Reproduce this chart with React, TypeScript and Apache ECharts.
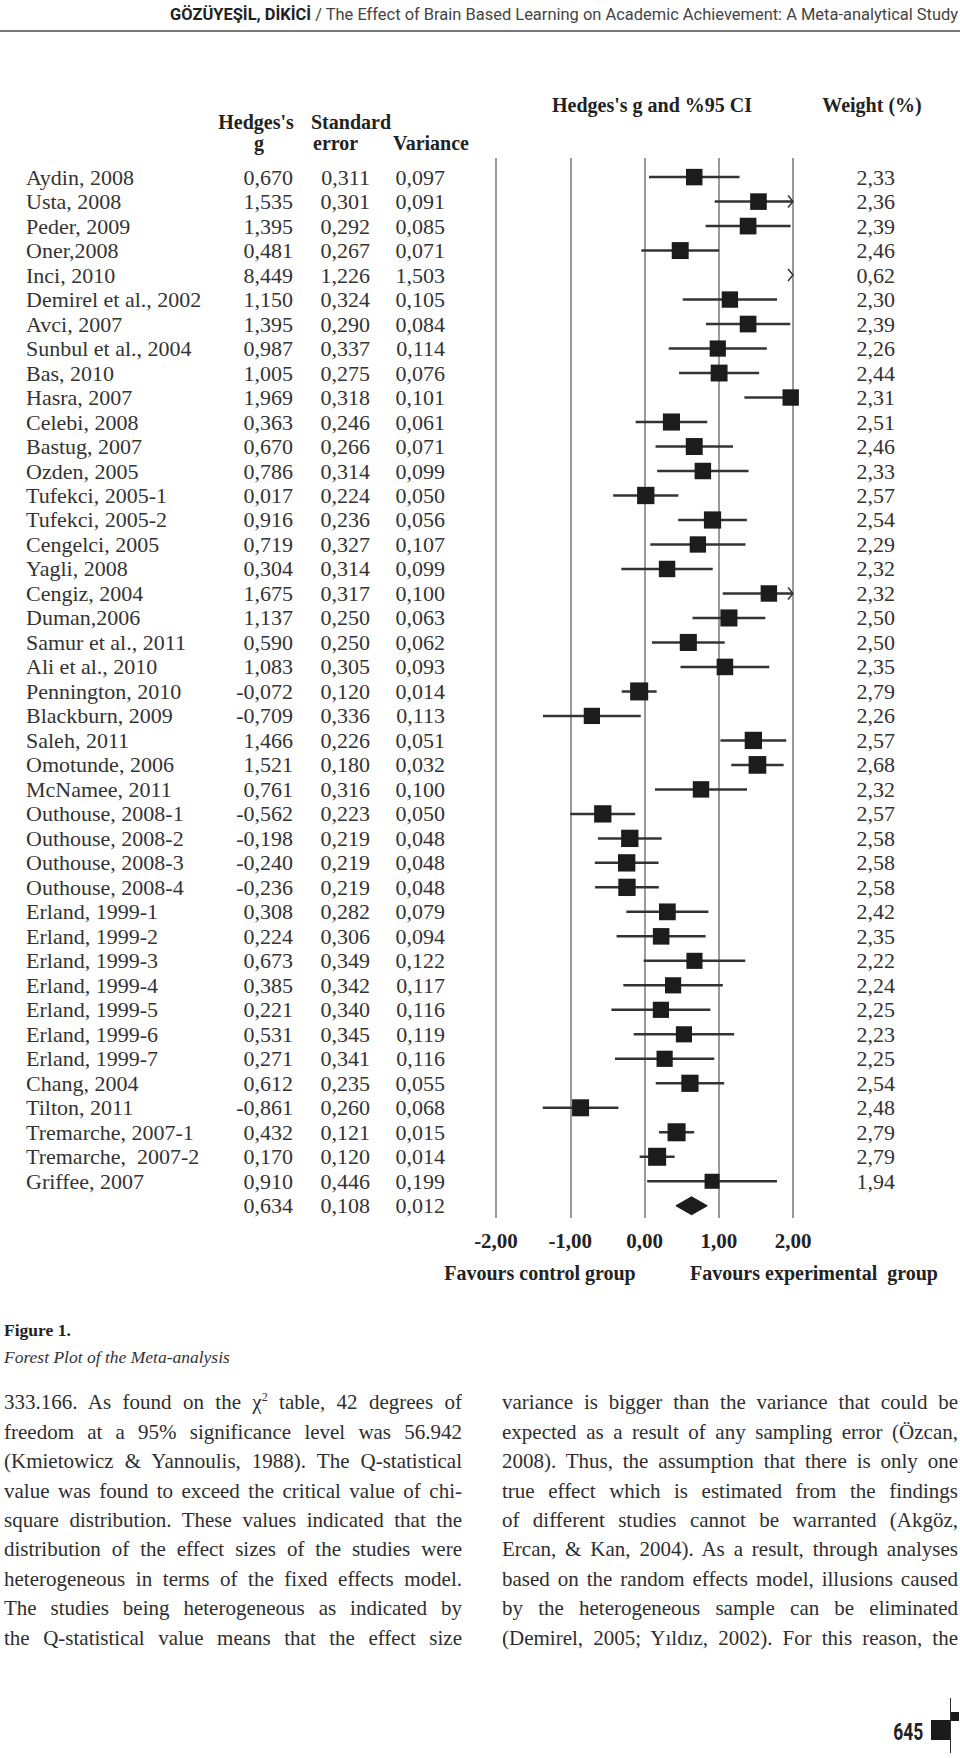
import React, { useEffect, useRef } from "react";
import * as echarts from "echarts";

// ---------------- DATA ----------------
const studyNames = [
  "Aydin, 2008", "Usta, 2008", "Peder, 2009", "Oner,2008", "Inci, 2010",
  "Demirel et al., 2002", "Avci, 2007", "Sunbul et al., 2004", "Bas, 2010", "Hasra, 2007",
  "Celebi, 2008", "Bastug, 2007", "Ozden, 2005", "Tufekci, 2005-1", "Tufekci, 2005-2",
  "Cengelci, 2005", "Yagli, 2008", "Cengiz, 2004", "Duman,2006", "Samur et al., 2011",
  "Ali et al., 2010", "Pennington, 2010", "Blackburn, 2009", "Saleh, 2011", "Omotunde, 2006",
  "McNamee, 2011", "Outhouse, 2008-1", "Outhouse, 2008-2", "Outhouse, 2008-3", "Outhouse, 2008-4",
  "Erland, 1999-1", "Erland, 1999-2", "Erland, 1999-3", "Erland, 1999-4", "Erland, 1999-5",
  "Erland, 1999-6", "Erland, 1999-7", "Chang, 2004", "Tilton, 2011", "Tremarche, 2007-1",
  "Tremarche,  2007-2", "Griffee, 2007",
];
const hedgesG = [
  0.670, 1.535, 1.395, 0.481, 8.449, 1.150, 1.395, 0.987, 1.005, 1.969,
  0.363, 0.670, 0.786, 0.017, 0.916, 0.719, 0.304, 1.675, 1.137, 0.590,
  1.083, -0.072, -0.709, 1.466, 1.521, 0.761, -0.562, -0.198, -0.240, -0.236,
  0.308, 0.224, 0.673, 0.385, 0.221, 0.531, 0.271, 0.612, -0.861, 0.432,
  0.170, 0.910,
];
const standardErrors = [
  0.311, 0.301, 0.292, 0.267, 1.226, 0.324, 0.290, 0.337, 0.275, 0.318,
  0.246, 0.266, 0.314, 0.224, 0.236, 0.327, 0.314, 0.317, 0.250, 0.250,
  0.305, 0.120, 0.336, 0.226, 0.180, 0.316, 0.223, 0.219, 0.219, 0.219,
  0.282, 0.306, 0.349, 0.342, 0.340, 0.345, 0.341, 0.235, 0.260, 0.121,
  0.120, 0.446,
];
const variances = [
  0.097, 0.091, 0.085, 0.071, 1.503, 0.105, 0.084, 0.114, 0.076, 0.101,
  0.061, 0.071, 0.099, 0.050, 0.056, 0.107, 0.099, 0.100, 0.063, 0.062,
  0.093, 0.014, 0.113, 0.051, 0.032, 0.100, 0.050, 0.048, 0.048, 0.048,
  0.079, 0.094, 0.122, 0.117, 0.116, 0.119, 0.116, 0.055, 0.068, 0.015,
  0.014, 0.199,
];
const weightsPct = [
  2.33, 2.36, 2.39, 2.46, 0.62, 2.30, 2.39, 2.26, 2.44, 2.31,
  2.51, 2.46, 2.33, 2.57, 2.54, 2.29, 2.32, 2.32, 2.50, 2.50,
  2.35, 2.79, 2.26, 2.57, 2.68, 2.32, 2.57, 2.58, 2.58, 2.58,
  2.42, 2.35, 2.22, 2.24, 2.25, 2.23, 2.25, 2.54, 2.48, 2.79,
  2.79, 1.94,
];
// summary: Hedges's g, standard error, variance
const summaryValues = [0.634, 0.108, 0.012];
const xTicks = [-2, -1, 0, 1, 2];

const leftLines = [
  "333.166. As found on the χ² table, 42 degrees of",
  "freedom at a 95% significance level was 56.942",
  "(Kmietowicz & Yannoulis, 1988). The Q-statistical",
  "value was found to exceed the critical value of chi-",
  "square distribution. These values indicated that the",
  "distribution of the effect sizes of the studies were",
  "heterogeneous in terms of the fixed effects model.",
  "The studies being heterogeneous as indicated by",
  "the Q-statistical value means that the effect size",
];
const rightLines = [
  "variance is bigger than the variance that could be",
  "expected as a result of any sampling error (Özcan,",
  "2008). Thus, the assumption that there is only one",
  "true effect which is estimated from the findings",
  "of different studies cannot be warranted (Akgöz,",
  "Ercan, & Kan, 2004). As a result, through analyses",
  "based on the random effects model, illusions caused",
  "by the heterogeneous sample can be eliminated",
  "(Demirel, 2005; Yıldız, 2002). For this reason, the",
];

// ---------------- HELPERS ----------------
const SERIF = "'Liberation Serif', 'Times New Roman', serif";
const fmt3 = (v: number) => v.toFixed(3).replace(".", ",");
const fmt2 = (v: number) => v.toFixed(2).replace(".", ",");

function txt(text: string, x: number, y: number, align: string, opts: any = {}) {
  return {
    type: "text",
    style: {
      text,
      x,
      y,
      align,
      textAlign: align,
      verticalAlign: "middle",
      textVerticalAlign: "middle",
      fontFamily: SERIF,
      fontSize: opts.fontSize || 22,
      fontWeight: opts.fontWeight || "normal",
      fill: opts.fill || "#333",
    },
  };
}

function buildOption() {
  const xMin = xTicks[0];
  const xMax = xTicks[xTicks.length - 1];
  const rows: number[][] = studyNames.map((_, i) => [i, hedgesG[i], standardErrors[i], weightsPct[i], 0]);
  rows.push([studyNames.length, summaryValues[0], summaryValues[1], 0, 1]);

  const renderItem = (params: any, api: any) => {
    const i = api.value(0);
    const g = api.value(1);
    const se = api.value(2);
    const w = api.value(3);
    const isSummary = api.value(4) === 1;
    const px = (v: number) => api.coord([v, i])[0];
    const cy = api.coord([0, i])[1];
    const lo = g - 1.96 * se;
    const hi = g + 1.96 * se;
    const children: any[] = [];
    const ink = "#1c1c1c";
    if (isSummary) {
      children.push({
        type: "polygon",
        shape: { points: [[px(lo), cy], [px(g), cy - 9], [px(hi), cy], [px(g), cy + 9]] },
        style: { fill: ink, stroke: ink, lineWidth: 1 },
      });
      children.push(txt(fmt3(summaryValues[0]), 293, cy, "right"));
      children.push(txt(fmt3(summaryValues[1]), 370, cy, "right"));
      children.push(txt(fmt3(summaryValues[2]), 445, cy, "right"));
    } else {
      const l = Math.max(lo, xMin);
      const h = Math.min(hi, xMax);
      if (h > l) {
        children.push({
          type: "line",
          shape: { x1: px(l), y1: cy, x2: px(h), y2: cy },
          style: { stroke: "#333", lineWidth: 2.5 },
        });
      }
      if (hi > xMax) {
        const ax = px(xMax);
        children.push({
          type: "polyline",
          shape: { points: [[ax - 5, cy - 6], [ax, cy], [ax - 5, cy + 6]] },
          style: { stroke: "#333", lineWidth: 1.5, fill: "none" },
        });
      }
      if (lo < xMin) {
        const ax = px(xMin);
        children.push({
          type: "polyline",
          shape: { points: [[ax + 5, cy - 6], [ax, cy], [ax + 5, cy + 6]] },
          style: { stroke: "#333", lineWidth: 1.5, fill: "none" },
        });
      }
      if (g >= xMin && g <= xMax) {
        const s = 10.8 * Math.sqrt(w);
        children.push({
          type: "rect",
          shape: { x: px(g) - s / 2, y: cy - s / 2, width: s, height: s },
          style: { fill: ink },
        });
      }
      children.push(txt(studyNames[i], 26, cy, "left"));
      children.push(txt(fmt3(hedgesG[i]), 293, cy, "right"));
      children.push(txt(fmt3(standardErrors[i]), 370, cy, "right"));
      children.push(txt(fmt3(variances[i]), 445, cy, "right"));
      children.push(txt(fmt2(weightsPct[i]), 895, cy, "right"));
    }
    return { type: "group", children };
  };

  const head = (text: string, x: number, y: number, align: string, size = 20) => ({
    type: "text",
    x,
    y,
    style: {
      text,
      align,
      textAlign: align,
      verticalAlign: "middle",
      textVerticalAlign: "middle",
      fontFamily: SERIF,
      fontSize: size,
      fontWeight: "bold",
      fill: "#222",
    },
  });

  return {
    animation: false,
    backgroundColor: "transparent",
    grid: { left: 496, right: 167, top: 158, bottom: 82 },
    xAxis: {
      type: "value",
      min: xMin,
      max: xMax,
      interval: xTicks[1] - xTicks[0],
      axisLine: { show: false },
      axisTick: { show: false },
      splitLine: { show: true, lineStyle: { color: "#9a9a9a", width: 2, type: "solid" } },
      axisLabel: {
        margin: 12,
        fontFamily: SERIF,
        fontWeight: "bold",
        fontSize: 21,
        color: "#222",
        formatter: (v: number) => v.toFixed(2).replace(".", ","),
      },
    },
    yAxis: {
      type: "value",
      inverse: true,
      min: -0.78,
      max: 42.5,
      show: false,
      splitLine: { show: false },
    },
    series: [
      {
        type: "custom",
        clip: false,
        renderItem,
        data: rows,
      },
    ],
    graphic: [
      head("Hedges's", 256, 122, "center"),
      head("g", 259, 143, "center"),
      head("Standard", 351, 122, "center"),
      head("error", 313, 143, "left"),
      head("Variance", 431, 143, "center"),
      head("Hedges's g and %95 CI", 652, 105, "center"),
      head("Weight (%)", 872, 105, "center"),
      head("Favours control group", 540, 1273, "center"),
      head("Favours experimental  group", 814, 1273, "center"),
    ],
  };
}

function renderLine(s: string) {
  if (s.indexOf("²") < 0) return s;
  const parts = s.split("²");
  return (
    <>
      {parts[0]}
      <sup style={{ fontSize: 12, verticalAlign: "8px", lineHeight: 0 }}>2</sup>
      {parts[1]}
    </>
  );
}

export default function App() {
  const chartRef = useRef<HTMLDivElement>(null);
  const headRef = useRef<HTMLDivElement>(null);
  const numRef = useRef<HTMLDivElement>(null);

  useEffect(() => {
    const chart = echarts.init(chartRef.current as HTMLDivElement, null, { renderer: "svg" });
    chart.setOption(buildOption() as any);
    const fit = () => {
      const pairs: [HTMLDivElement | null, number][] = [
        [headRef.current, 788],
        [numRef.current, 30],
      ];
      pairs.forEach(([el, target]) => {
        if (!el) return;
        el.style.transform = "none";
        const w = el.getBoundingClientRect().width;
        if (w > 0) el.style.transform = `scaleX(${target / w})`;
      });
    };
    fit();
    const fonts: any = (document as any).fonts;
    if (fonts && fonts.ready) fonts.ready.then(fit);
    return () => chart.dispose();
  }, []);

  const lineTop0 = 1403;
  const lineStep = 29.4;
  const lineStyle = (left: number, width: number, i: number): React.CSSProperties => ({
    position: "absolute",
    left,
    top: lineTop0 + i * lineStep - lineStep / 2,
    width,
    height: lineStep,
    lineHeight: `${lineStep}px`,
    fontSize: 21,
    fontFamily: SERIF,
    color: "#2e2e2e",
    textAlign: "justify",
    textAlignLast: "justify" as any,
    overflow: "hidden",
  });

  return (
    <div
      style={{
        position: "absolute",
        left: 0,
        top: 0,
        width: 960,
        height: 1758,
        background: "#fff",
        overflow: "hidden",
      }}
    >
      <div ref={chartRef} style={{ position: "absolute", left: 0, top: 0, width: 960, height: 1300 }} />

      {/* running head */}
      <div
        ref={headRef}
        style={{
          position: "absolute",
          right: 2,
          top: 4,
          fontFamily: "Roboto, 'Liberation Sans', sans-serif",
          fontSize: 17,
          lineHeight: "21px",
          whiteSpace: "nowrap",
          color: "#444",
          transformOrigin: "right center",
        }}
      >
        <span style={{ fontWeight: "bold", color: "#222" }}>GÖZÜYEŞİL, DİKİCİ</span> / The Effect of Brain Based
        Learning on Academic Achievement: A Meta-analytical Study
      </div>
      <div style={{ position: "absolute", left: 0, top: 30, width: 960, height: 1.5, background: "#777" }} />

      {/* caption */}
      <div
        style={{
          position: "absolute",
          left: 4,
          top: 1320,
          fontFamily: SERIF,
          fontSize: 17.5,
          lineHeight: "20px",
          fontWeight: "bold",
          color: "#222",
        }}
      >
        Figure 1.
      </div>
      <div
        style={{
          position: "absolute",
          left: 4,
          top: 1347,
          fontFamily: SERIF,
          fontSize: 17.5,
          lineHeight: "20px",
          fontStyle: "italic",
          color: "#333",
        }}
      >
        Forest Plot of the Meta-analysis
      </div>

      {/* body text */}
      {leftLines.map((s, i) => (
        <div key={"l" + i} style={lineStyle(4, 458, i)}>
          {renderLine(s)}
        </div>
      ))}
      {rightLines.map((s, i) => (
        <div key={"r" + i} style={lineStyle(502, 456, i)}>
          {renderLine(s)}
        </div>
      ))}

      {/* page number */}
      <div
        ref={numRef}
        style={{
          position: "absolute",
          right: 960 - 923,
          top: 1718,
          fontFamily: "Roboto, 'Liberation Sans', sans-serif",
          fontWeight: "bold",
          fontSize: 24,
          lineHeight: "28px",
          color: "#222",
          whiteSpace: "nowrap",
          transformOrigin: "right center",
        }}
      >
        645
      </div>
      <div style={{ position: "absolute", left: 931, top: 1720, width: 19, height: 20, background: "#1a1a1a" }} />
      <div style={{ position: "absolute", left: 950, top: 1712, width: 9, height: 9, background: "#1a1a1a" }} />
      <div style={{ position: "absolute", left: 950, top: 1698, width: 1, height: 55, background: "#333" }} />
    </div>
  );
}
